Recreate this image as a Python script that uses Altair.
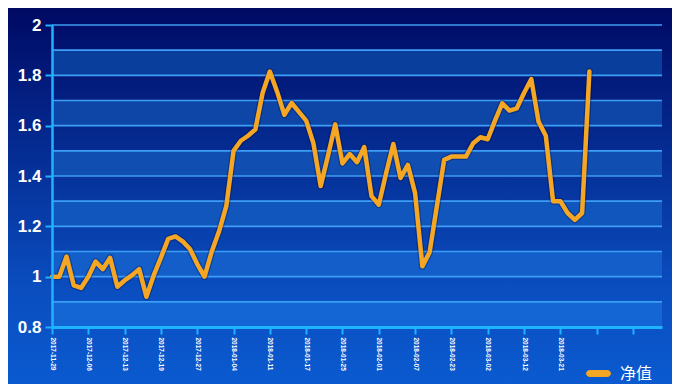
import altair as alt
import pandas as pd

# ---- data ----
values = [1.0, 1.0, 1.08, 0.965, 0.955, 1.0, 1.06, 1.03, 1.075, 0.96,
          0.985, 1.005, 1.03, 0.92, 1.005, 1.076, 1.15, 1.16, 1.14, 1.11,
          1.05, 1.0, 1.1, 1.18, 1.28, 1.5, 1.54, 1.56, 1.585, 1.73,
          1.815, 1.735, 1.643, 1.69, 1.655, 1.62, 1.53, 1.36, 1.48, 1.605,
          1.45, 1.487, 1.455, 1.515, 1.32, 1.286, 1.41, 1.527, 1.392, 1.444,
          1.332, 1.041, 1.097, 1.28, 1.464, 1.477, 1.477, 1.477, 1.53, 1.554,
          1.546, 1.62, 1.689, 1.66, 1.669, 1.73, 1.785, 1.616, 1.56, 1.30,
          1.30, 1.253, 1.226, 1.253, 1.815]
tick_labels = ["2017-11-29", "2017-12-06", "2017-12-13", "2017-12-19", "2017-12-27",
               "2018-01-04", "2018-01-11", "2018-01-17", "2018-01-25", "2018-02-01",
               "2018-02-07", "2018-02-23", "2018-03-02", "2018-03-12", "2018-03-21"]
series_name = "净值"
y_ticks = [0.8, 1.0, 1.2, 1.4, 1.6, 1.8, 2.0]
grid_vals = [0.8, 0.9, 1.0, 1.1, 1.2, 1.3, 1.4, 1.5, 1.6, 1.7, 1.8, 1.9, 2.0]
band_lo = [0.8, 1.0, 1.2, 1.4, 1.6, 1.8]
band_hi = [0.9, 1.1, 1.3, 1.5, 1.7, 1.9]
x_ticks = list(range(0, 85, 5))

W, H = 610, 302
PAD = {"left": 44, "top": 17, "right": 10, "bottom": 57}

df = pd.DataFrame({"i": list(range(len(values))), "v": values, "s": series_name})
bands = pd.DataFrame({"lo": band_lo, "hi": band_hi})
grid = pd.DataFrame({"g": grid_vals})
one = pd.DataFrame({"a": [0]})

yscale = alt.Scale(domain=[0.8, 2.0], nice=False, zero=False)

bg = alt.Chart(one).mark_rect(
    clip=False,
    color={"gradient": "linear", "x1": 0, "y1": 0, "x2": 0, "y2": 1,
           "stops": [{"offset": 0, "color": "#000a62"},
                     {"offset": 0.05, "color": "#000e6a"},
                     {"offset": 0.75, "color": "#0a4ec0"},
                     {"offset": 1, "color": "#0b5ad0"}]}
).encode(
    x=alt.value(-PAD["left"]), x2=alt.value(W + PAD["right"]),
    y=alt.value(-PAD["top"]), y2=alt.value(H + PAD["bottom"])
)

band_layer = alt.Chart(bands).mark_rect().encode(
    y=alt.Y("lo:Q", scale=yscale, title=None),
    y2="hi:Q",
    x=alt.value(0), x2=alt.value(W),
    color=alt.Color("lo:Q", scale=alt.Scale(domain=[0.8, 1.8], range=["#1366d4", "#0a3e9c"]), legend=None),
)

grid_layer = alt.Chart(grid).mark_rule(color="#3d9ef5", strokeWidth=1.6).encode(
    y=alt.Y("g:Q", scale=yscale, title=None),
    x=alt.value(0), x2=alt.value(W),
)

labels_arr = "[" + ",".join("'%s'" % l for l in tick_labels) + "]"
x_label_expr = "datum.value < %d ? %s[round(datum.value/5)] : ''" % (5 * len(tick_labels), labels_arr)

x_enc = alt.X("i:Q", scale=alt.Scale(domain=[0, 84], nice=False, zero=False), title=None,
              axis=alt.Axis(values=x_ticks, labelExpr=x_label_expr, labelAngle=90,
                            labelFontSize=6.5, labelFont="Liberation Sans", labelFontWeight="bold",
                            labelColor="#ffffff", labelPadding=3, tickSize=7, tickWidth=2,
                            tickColor="#1fb2ff", domainColor="#1fb2ff", domainWidth=3,
                            grid=False, zindex=1, labelOverlap=False, labelFlush=False))
y_enc = alt.Y("v:Q", scale=yscale, title=None,
              axis=alt.Axis(values=y_ticks, format="~g", labelFontSize=17,
                            labelFont="Liberation Sans", labelFontWeight="bold",
                            labelColor="#ffffff", labelPadding=4, tickSize=7, tickWidth=2,
                            tickColor="#1fb2ff", domainColor="#1fb2ff", domainWidth=2.5,
                            grid=False, zindex=1, labelOverlap=False))

halo = alt.Chart(df).mark_line(color="#000838", opacity=0.3, strokeWidth=7,
                               strokeJoin="round", strokeCap="round").encode(x=x_enc, y=y_enc)

capsule = "M-1,-0.33 L1,-0.33 A0.33,0.33 0 0 1 1,0.33 L-1,0.33 A0.33,0.33 0 0 1 -1,-0.33 Z"

line = alt.Chart(df).mark_line(strokeWidth=4.5, strokeJoin="round", strokeCap="round").encode(
    x=x_enc, y=y_enc,
    color=alt.Color("s:N", scale=alt.Scale(range=["#f5a623"]),
                    legend=alt.Legend(title=None, orient="none", legendX=537, legendY=339,
                                      symbolType=capsule, symbolSize=324,
                                      symbolFillColor="#f5a623", symbolStrokeColor="#f5a623",
                                      symbolStrokeWidth=1,
                                      labelFont="Noto Sans CJK SC", labelFontSize=16,
                                      labelColor="#ffffff", labelOffset=12, padding=0)),
)

chart = alt.layer(bg, band_layer, grid_layer, halo, line).resolve_scale(
    color="independent"
).properties(
    width=W, height=H, padding=PAD, autosize="none", background="#0b5ad0"
).configure_view(stroke=None)

chart.save("out.html", embed_options={"renderer": "svg", "actions": False})
